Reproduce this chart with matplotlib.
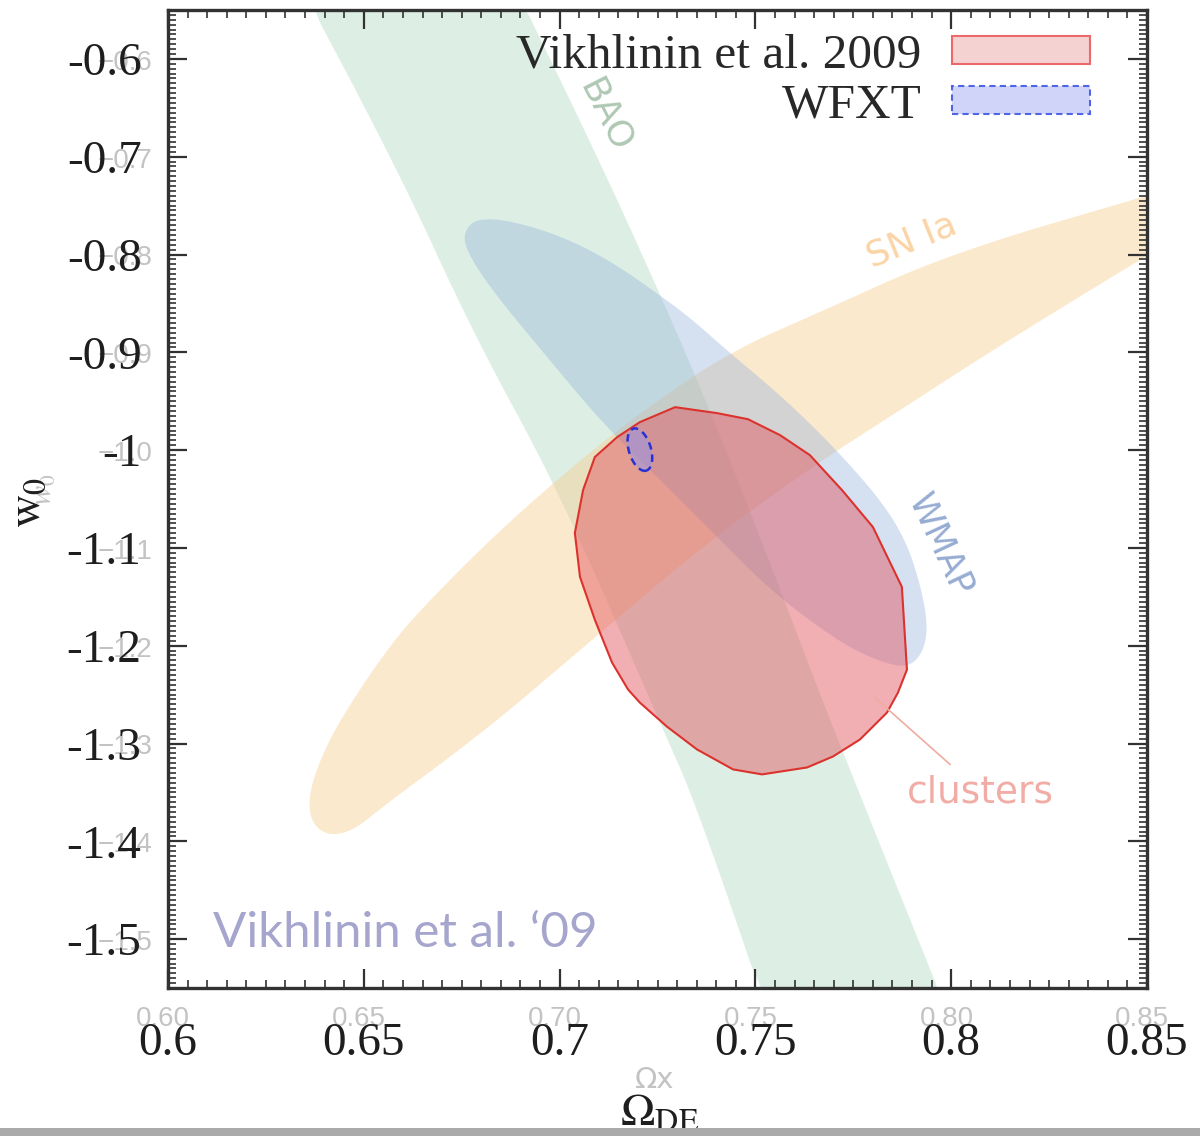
import numpy as np
import matplotlib
matplotlib.use("Agg")
import matplotlib.pyplot as plt
from matplotlib.patches import Polygon, Ellipse, Patch, Rectangle
from matplotlib.ticker import MultipleLocator

# ---- data ----
x_ticks = [0.6, 0.65, 0.7, 0.75, 0.8, 0.85]
x_labels = ['0.6', '0.65', '0.7', '0.75', '0.8', '0.85']
x_ghost = ['0.60', '0.65', '0.70', '0.75', '0.80', '0.85']
y_ticks = [-0.6, -0.7, -0.8, -0.9, -1.0, -1.1, -1.2, -1.3, -1.4, -1.5]
y_labels = ['-0.6', '-0.7', '-0.8', '-0.9', '-1', '-1.1', '-1.2', '-1.3', '-1.4', '-1.5']
y_ghost = ['\u22120.6', '\u22120.7', '\u22120.8', '\u22120.9', '\u22121.0',
           '\u22121.1', '\u22121.2', '\u22121.3', '\u22121.4', '\u22121.5']

# BAO band outline (left edge top->bottom, right edge bottom->top)
bao_x = [0.6238, 0.6585, 0.6779, 0.7001, 0.7264, 0.7351, 0.7594,
         0.8066, 0.7823, 0.7670, 0.7525, 0.7384, 0.7256, 0.7090, 0.6793]
bao_y = [-0.4500, -0.7112, -0.8806, -1.0439, -1.2857, -1.3643, -1.6500,
         -1.6500, -1.4082, -1.2551, -1.1020, -0.9592, -0.8398, -0.6939, -0.4500]

# SN Ia contour
sn_x = [0.6358, 0.6383, 0.6439, 0.6567, 0.6669, 0.6848, 0.7052, 0.7231, 0.7443,
        0.7657, 0.7997, 0.8500, 0.8763, 0.8789, 0.8763, 0.8500, 0.8125, 0.7869,
        0.7639, 0.7359, 0.7060, 0.6804, 0.6549, 0.6478, 0.6414, 0.6368]
sn_y = [-1.3571, -1.3214, -1.2755, -1.1990, -1.1531, -1.0816, -1.0102, -0.9541, -0.8980,
        -0.8602, -0.7990, -0.7398, -0.7092, -0.7245, -0.7378, -0.8010, -0.8929, -0.9592,
        -1.0184, -1.1000, -1.2020, -1.2888, -1.3643, -1.3878, -1.3949, -1.3827]

# WMAP contour
wmap_x = [0.6753, 0.6766, 0.6797, 0.6873, 0.7001, 0.7129, 0.7264, 0.7341, 0.7427,
          0.7570, 0.7708, 0.7826, 0.7887, 0.7925, 0.7941, 0.7925, 0.7887, 0.7818,
          0.7716, 0.7545, 0.7410, 0.7231, 0.7103, 0.6975, 0.6848, 0.6784]
wmap_y = [-0.7857, -0.7704, -0.7633, -0.7653, -0.7806, -0.8061, -0.8439, -0.8673, -0.8980,
          -0.9459, -1.0000, -1.0541, -1.0949, -1.1429, -1.1837, -1.2092, -1.2224, -1.2163,
          -1.1969, -1.1459, -1.0918, -1.0204, -0.9694, -0.9082, -0.8469, -0.8112]

# clusters (Vikhlinin et al. 2009)
cl_x = [0.7295, 0.7402, 0.7481, 0.7563, 0.7639, 0.7721, 0.7800, 0.7874, 0.7887,
        0.7864, 0.7836, 0.7767, 0.7698, 0.7632, 0.7517, 0.7443, 0.7351, 0.7274,
        0.7205, 0.7175, 0.7134, 0.7090, 0.7052, 0.7039, 0.7060, 0.7090, 0.7147, 0.7205]
cl_y = [-0.9561, -0.9622, -0.9684, -0.9847, -1.0051, -1.0408, -1.0786, -1.1398, -1.2245,
        -1.2480, -1.2684, -1.2959, -1.3133, -1.3245, -1.3316, -1.3265, -1.3061, -1.2827,
        -1.2582, -1.2449, -1.2173, -1.1735, -1.1296, -1.0847, -1.0408, -1.0071, -0.9867, -0.9714]

# WFXT forecast ellipse: centre, width, height, angle
wfxt_center = (0.7205, -0.9995)
wfxt_size = (0.0058, 0.0435)
wfxt_angle = 3.3

legend_labels = ['Vikhlinin et al. 2009', 'WFXT']


def smooth_closed(xs, ys, n=3):
    # Chaikin corner cutting to round off a traced outline
    pts = np.column_stack([xs, ys]).astype(float)
    for _ in range(n):
        nxt = np.roll(pts, -1, axis=0)
        q = 0.75 * pts + 0.25 * nxt
        r = 0.25 * pts + 0.75 * nxt
        new = np.empty((2 * len(pts), 2))
        new[0::2] = q
        new[1::2] = r
        pts = new
    return pts


def rgb(r, g, b):
    return (r / 255, g / 255, b / 255)


plt.rcParams['font.family'] = ['Liberation Serif', 'DejaVu Serif']
plt.rcParams['mathtext.fontset'] = 'stix'

W, H = 1200, 1136
fig = plt.figure(figsize=(W / 100, H / 100), dpi=100)
ax = fig.add_axes([168 / W, 1 - 988 / H, 979 / W, 978 / H])
ax.set_xlim(0.6, 0.85)
ax.set_ylim(-1.55, -0.55)

ax.add_patch(Polygon(smooth_closed(bao_x, bao_y), closed=True,
                     facecolor=rgb(175, 217, 195), alpha=0.42, lw=0, zorder=1))
ax.add_patch(Polygon(smooth_closed(sn_x, sn_y), closed=True,
                     facecolor=rgb(247, 200, 130), alpha=0.40, lw=0, zorder=1.1))
ax.add_patch(Polygon(smooth_closed(wmap_x, wmap_y), closed=True,
                     facecolor=rgb(150, 180, 218), alpha=0.40, lw=0, zorder=1.2))
ax.add_patch(Polygon(np.column_stack([cl_x, cl_y]), closed=True,
                     facecolor=rgb(226, 78, 90), alpha=0.45,
                     edgecolor='none', zorder=1.3))
ax.add_patch(Polygon(np.column_stack([cl_x, cl_y]), closed=True, fill=False,
                     edgecolor=rgb(220, 50, 45), lw=1.5, zorder=1.4))
ax.add_patch(Ellipse(wfxt_center, wfxt_size[0], wfxt_size[1], angle=wfxt_angle,
                     facecolor=rgb(150, 150, 230), alpha=0.55, lw=0, zorder=1.5))
ax.add_patch(Ellipse(wfxt_center, wfxt_size[0], wfxt_size[1], angle=wfxt_angle,
                     fill=False, edgecolor=rgb(40, 50, 210), lw=1.8,
                     linestyle=(0, (3, 2)), zorder=1.6))

# probe labels
probe_font = ['DejaVu Sans']
ax.text(0.7116, -0.6582, 'BAO', color=rgb(175, 200, 180), fontsize=26,
        rotation=-63, ha='center', va='center', family=probe_font)
ax.text(0.7900, -0.7857, 'SN Ia', color=rgb(250, 212, 165), fontsize=26,
        rotation=22, ha='center', va='center', family=probe_font)
ax.text(0.7971, -1.0969, 'WMAP', color=rgb(150, 172, 210), fontsize=25,
        rotation=-65, ha='center', va='center', family=probe_font)
ax.text(0.8074, -1.3500, 'clusters', color=rgb(240, 172, 165), fontsize=27,
        ha='center', va='center', family=probe_font)
ax.plot([0.7805, 0.7997], [-1.2531, -1.3214], color=rgb(240, 172, 160), lw=1.2, zorder=2)

ax.text(0.6115, -1.508, 'Vikhlinin et al. \u201809', color=rgb(165, 165, 205),
        fontsize=35.5, ha='left', va='baseline', family=['Lato', 'DejaVu Sans'])

# legend
handles = [Patch(facecolor=rgb(245, 210, 210), edgecolor=rgb(235, 105, 105), lw=1.5),
           Patch(facecolor=rgb(208, 212, 248), edgecolor=rgb(80, 100, 230), lw=1.5,
                 linestyle=(0, (3, 2)))]
ax.legend(handles, legend_labels, loc='upper right', bbox_to_anchor=(0.9418, 0.976),
          borderaxespad=0, borderpad=0, frameon=False, markerfirst=False,
          fontsize=35.5, handlelength=2.8, handleheight=0.5, handletextpad=0.62,
          labelspacing=0.12, labelcolor=rgb(40, 40, 40))

# axes styling
ink = rgb(50, 50, 50)
for s in ax.spines.values():
    s.set_color(ink)
    s.set_linewidth(2.4)
ax.set_xticks(x_ticks)
ax.set_xticklabels(x_labels)
ax.set_yticks(y_ticks)
ax.set_yticklabels(y_labels)
ax.xaxis.set_minor_locator(MultipleLocator(0.005))
ax.yaxis.set_minor_locator(MultipleLocator(0.005))
ax.tick_params(which='both', direction='in', top=True, right=True, color=ink)
ax.tick_params(which='major', length=14, width=1.6, labelsize=34,
               labelcolor=rgb(30, 30, 30))
ax.tick_params(which='minor', length=5.5, width=1.2)
ax.tick_params(axis='x', which='major', pad=25)
ax.tick_params(axis='y', which='major', pad=19)

# faint labels of the second, overlaid figure
ghost = rgb(195, 195, 195)
for xv, lab in zip(x_ticks, x_ghost):
    ax.text(xv - 0.0012, -0.032, lab, transform=ax.get_xaxis_transform(),
            ha='center', va='center', fontsize=20, color=ghost,
            family=['Liberation Sans', 'DejaVu Sans'], clip_on=False, zorder=0.5)
for yv, lab in zip(y_ticks, y_ghost):
    ax.text(-0.016, yv - 0.004, lab, transform=ax.get_yaxis_transform(),
            ha='right', va='center', fontsize=20, color=ghost,
            family=['Liberation Sans', 'DejaVu Sans'], clip_on=False, zorder=0.5)

fig.text(655 / W, 1 - 1080 / H, '\u03a9x', fontsize=21, color=ghost,
         ha='center', va='center', family=['DejaVu Sans'], zorder=2)
fig.text(44 / W, 1 - 490 / H, r'$w_0$', fontsize=22, color=ghost, rotation=90,
         ha='center', va='center', zorder=2)
fig.text(660 / W, 1 - 1125 / H, r'$\Omega_{\rm DE}$', fontsize=33, color=rgb(30, 30, 30),
         ha='center', va='baseline', zorder=3)
fig.text(28 / W, 1 - 502 / H, r'$\rm w_0$', fontsize=33, color=rgb(30, 30, 30),
         rotation=90, ha='center', va='center', zorder=3)

# grey strip along the lower edge of the slide
fig.patches.append(Rectangle((0, 0), 1, 8 / H, transform=fig.transFigure,
                             facecolor=rgb(170, 170, 170), edgecolor='none', zorder=10))

fig.savefig('out.png', dpi=100)
